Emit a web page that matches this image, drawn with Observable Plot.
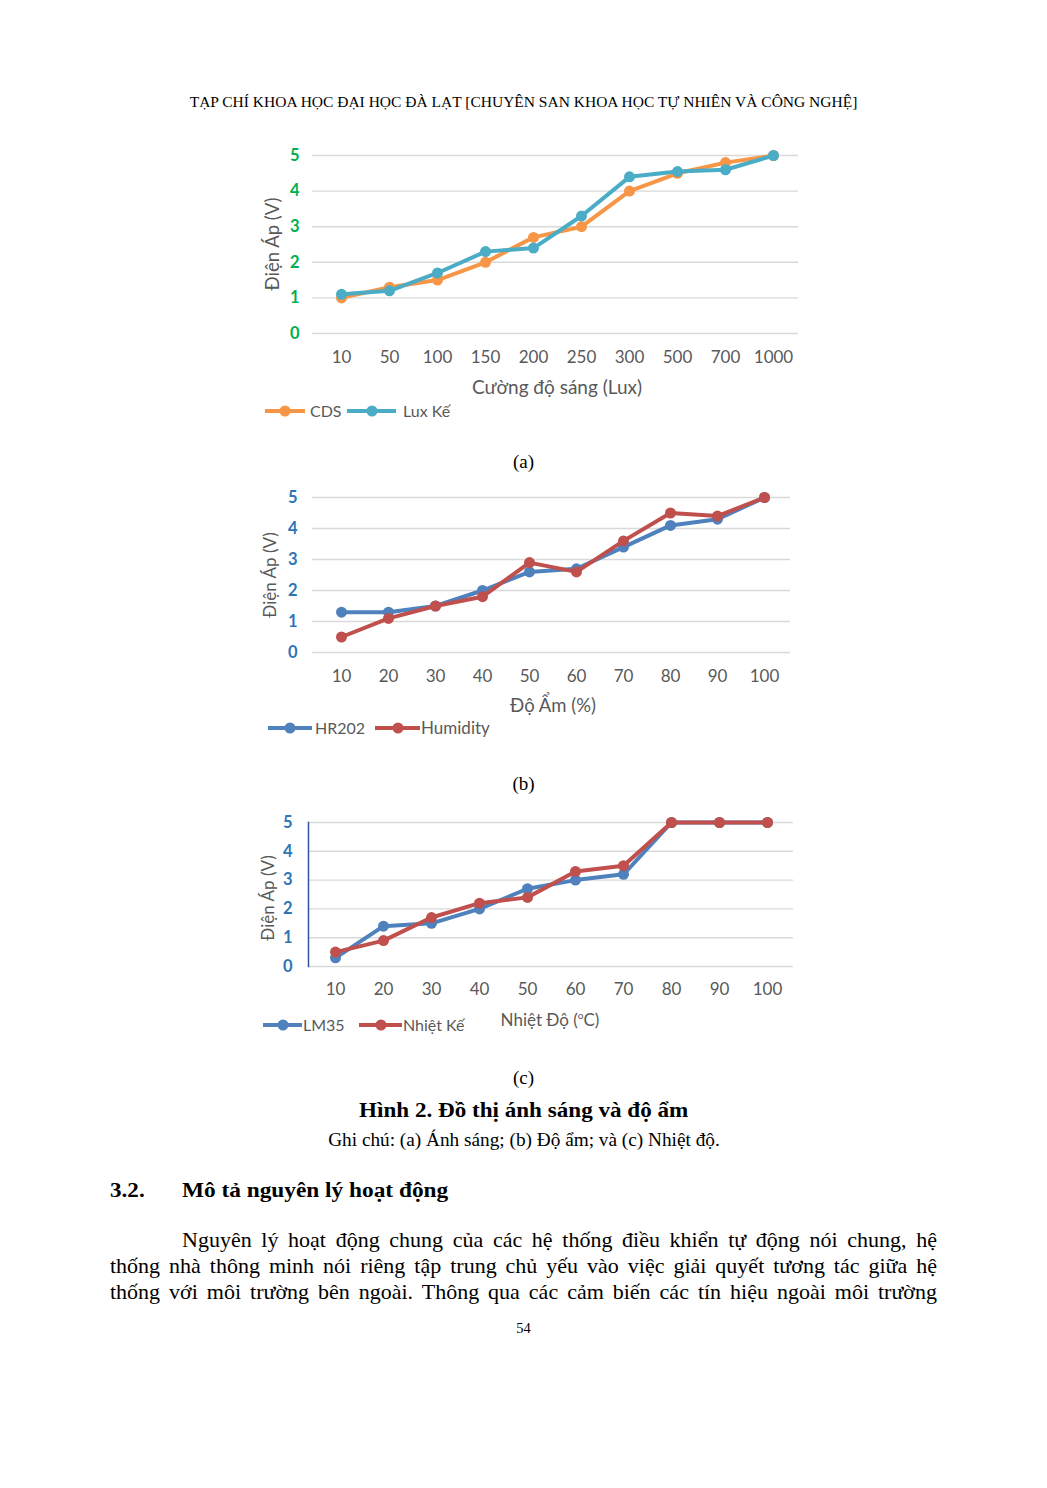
<!DOCTYPE html>
<html><head><meta charset="utf-8">
<script src="https://cdn.jsdelivr.net/npm/d3@7"></script>
<script src="https://cdn.jsdelivr.net/npm/@observablehq/plot@0.6"></script>
<style>
body{margin:0;background:#fff;}
#page{position:relative;width:1047px;height:1488px;background:#fff;overflow:hidden;font-family:"Liberation Serif","Times New Roman",serif;color:#000;}
.abs{position:absolute;white-space:nowrap;}
.ctr{position:absolute;left:0;width:1047px;text-align:center;white-space:nowrap;}
.ctr > span{display:inline-block;transform-origin:50% 50%;}
.chart{position:absolute;}
.ctitle{position:absolute;font-family:Lato,"Open Sans",sans-serif;font-size:17px;color:#595959;white-space:nowrap;line-height:20px;}
.ytitle{position:absolute;font-family:Lato,"Open Sans",sans-serif;font-size:17px;color:#595959;white-space:nowrap;line-height:20px;transform:translate(-50%,-50%) rotate(-90deg);}
.leg{position:absolute;font-family:Lato,"Open Sans",sans-serif;font-size:16px;color:#595959;white-space:nowrap;line-height:20px;display:flex;align-items:center;}
.sw{display:inline-block;position:relative;height:4px;background:var(--c);}
.sw::after{content:"";position:absolute;left:50%;top:50%;width:11px;height:11px;border-radius:50%;background:var(--c);transform:translate(-50%,-50%);}
.para{position:absolute;left:110px;width:827px;font-size:22px;line-height:26px;text-align:justify;text-align-last:justify;white-space:nowrap;}
</style>
</head><body>
<div id="page">
  <div class="ctr" style="top:92px;font-size:15.5px;line-height:20px;"><span>TẠP CHÍ KHOA HỌC ĐẠI HỌC ĐÀ LẠT [CHUYÊN SAN KHOA HỌC TỰ NHIÊN VÀ CÔNG NGHỆ]</span></div>

  <div id="chartA" class="chart" style="left:250px;top:140px;"></div>
  <div class="ctitle" style="left:557px;top:377px;transform:translateX(-50%);font-size:19px;">Cường độ sáng (Lux)</div>
  <div class="ytitle" style="left:272px;top:244px;font-size:18.5px;">Điện Áp (V)</div>
  <div class="leg" style="left:265px;top:401px;"><span class="sw" style="--c:#F79646;width:40px;"></span><span style="margin-left:5px">CDS</span></div>
  <div class="leg" style="left:347px;top:401px;"><span class="sw" style="--c:#4BACC6;width:49px;"></span><span style="margin-left:7px">Lux Kế</span></div>
  <div class="ctr" style="top:450px;font-size:19px;line-height:24px;"><span>(a)</span></div>

  <div id="chartB" class="chart" style="left:250px;top:480px;"></div>
  <div class="ctitle" style="left:553px;top:695px;transform:translateX(-50%);font-size:18.5px;">Độ Ẩm (%)</div>
  <div class="ytitle" style="left:270px;top:575px;">Điện Áp (V)</div>
  <div class="leg" style="left:268px;top:718px;"><span class="sw" style="--c:#4F81BD;width:44px;"></span><span style="margin-left:3px">HR202</span></div>
  <div class="leg" style="left:375px;top:718px;font-size:17px;"><span class="sw" style="--c:#C0504D;width:45px;"></span><span style="margin-left:1px">Humidity</span></div>
  <div class="ctr" style="top:772px;font-size:19px;line-height:24px;"><span>(b)</span></div>

  <div id="chartC" class="chart" style="left:250px;top:805px;"></div>
  <div class="ctitle" style="left:550px;top:1005px;transform:translateX(-50%);">Nhiệt Độ (<sup style="font-size:10px;">o</sup>C)</div>
  <div class="ytitle" style="left:268px;top:898px;">Điện Áp (V)</div>
  <div class="leg" style="left:263px;top:1015px;"><span class="sw" style="--c:#4F81BD;width:39px;"></span><span style="margin-left:1px">LM35</span></div>
  <div class="leg" style="left:359px;top:1015px;"><span class="sw" style="--c:#C0504D;width:43px;"></span><span style="margin-left:1px">Nhiệt Kế</span></div>
  <div class="ctr" style="top:1066px;font-size:19px;line-height:24px;"><span>(c)</span></div>

  <div class="ctr" style="top:1097px;font-size:21px;line-height:26px;font-weight:bold;"><span style="transform:scaleX(1.1);">Hình 2. Đồ thị ánh sáng và độ ẩm</span></div>
  <div class="ctr" style="top:1129px;font-size:18px;line-height:22px;"><span style="transform:scaleX(1.07);">Ghi chú: (a) Ánh sáng; (b) Độ ẩm; và (c) Nhiệt độ.</span></div>

  <div class="abs" style="left:110px;top:1177px;font-size:21px;line-height:26px;font-weight:bold;transform:scaleX(1.1);transform-origin:0 50%;">3.2.</div>
  <div class="abs" style="left:182px;top:1177px;font-size:21px;line-height:26px;font-weight:bold;transform:scaleX(1.11);transform-origin:0 50%;">Mô tả nguyên lý hoạt động</div>

  <div class="para" style="top:1227px;left:182px;width:755px;">Nguyên lý hoạt động chung của các hệ thống điều khiển tự động nói chung, hệ</div>
  <div class="para" style="top:1253px;">thống nhà thông minh nói riêng tập trung chủ yếu vào việc giải quyết tương tác giữa hệ</div>
  <div class="para" style="top:1279px;">thống với môi trường bên ngoài. Thông qua các cảm biến các tín hiệu ngoài môi trường</div>

  <div class="ctr" style="top:1318px;font-size:14.5px;line-height:20px;"><span>54</span></div>
</div>
<script>
// ---- Data ----
const luxCategories = ["10","50","100","150","200","250","300","500","700","1000"];
const cdsValues      = [1.0, 1.3, 1.5, 2.0, 2.7, 3.0, 4.0, 4.5, 4.8, 5.0];
const luxMeterValues = [1.1, 1.2, 1.7, 2.3, 2.4, 3.3, 4.4, 4.55, 4.6, 5.0];

const humidityCategories = ["10","20","30","40","50","60","70","80","90","100"];
const hr202Values    = [1.3, 1.3, 1.5, 2.0, 2.6, 2.7, 3.4, 4.1, 4.3, 5.0];
const humidityValues = [0.5, 1.1, 1.5, 1.8, 2.9, 2.6, 3.6, 4.5, 4.4, 5.0];

const tempCategories = ["10","20","30","40","50","60","70","80","90","100"];
const lm35Values        = [0.3, 1.4, 1.5, 2.0, 2.7, 3.0, 3.2, 5.0, 5.0, 5.0];
const thermometerValues = [0.5, 0.9, 1.7, 2.2, 2.4, 3.3, 3.5, 5.0, 5.0, 5.0];

const voltageTicks = [0, 1, 2, 3, 4, 5];

function drawChart(el, cfg) {
  const rows = s => cfg.cats.map((c, i) => ({cat: c, v: s.values[i]}));
  const marks = [
    Plot.gridY(voltageTicks, {stroke: "#d9d9d9", strokeOpacity: 1, strokeWidth: 1.4}),
    Plot.axisY(voltageTicks, {tickSize: 0, tickPadding: cfg.yPad, fill: cfg.tickColor, fontWeight: "bold", fontSize: 16.5, label: null}),
    Plot.axisX({tickSize: 0, tickPadding: cfg.xPad, fill: "#595959", fontSize: 17, label: null})
  ];
  if (cfg.leftLine) marks.push(Plot.frame({anchor: "left", stroke: cfg.leftLine, strokeWidth: 1.5}));
  for (const s of cfg.series) {
    marks.push(Plot.line(rows(s), {x: "cat", y: "v", stroke: s.color, strokeWidth: 4, strokeLinejoin: "round"}));
    marks.push(Plot.dot(rows(s), {x: "cat", y: "v", fill: s.color, r: 5.5}));
  }
  const svg = Plot.plot({
    width: cfg.width, height: cfg.height,
    marginTop: cfg.mt, marginBottom: cfg.mb, marginLeft: cfg.ml, marginRight: cfg.mr,
    style: {background: "transparent", fontFamily: "Lato, 'Open Sans', sans-serif", fontSize: "16px", overflow: "visible"},
    x: {type: "point", domain: cfg.cats, range: cfg.xRange, padding: 0, label: null},
    y: {domain: [0, 5], label: null},
    marks
  });
  document.getElementById(el).appendChild(svg);
}

drawChart("chartA", {
  cats: luxCategories, width: 560, height: 240, mt: 15, mb: 47, ml: 62, mr: 12,
  xRange: [91, 523], yPad: 13, xPad: 17, tickColor: "#00B050",
  series: [{values: cdsValues, color: "#F79646"}, {values: luxMeterValues, color: "#4BACC6"}]
});
drawChart("chartB", {
  cats: humidityCategories, width: 560, height: 220, mt: 17, mb: 48, ml: 62, mr: 20,
  xRange: [88, 517], yPad: 15, xPad: 17, tickColor: "#2E75B6",
  series: [{values: hr202Values, color: "#4F81BD"}, {values: humidityValues, color: "#C0504D"}]
});
drawChart("chartC", {
  cats: tempCategories, width: 560, height: 210, mt: 17, mb: 49, ml: 58, mr: 17,
  xRange: [83, 519], yPad: 16, xPad: 16, tickColor: "#2E75B6", leftLine: "#2F5597",
  series: [{values: lm35Values, color: "#4F81BD"}, {values: thermometerValues, color: "#C0504D"}]
});
</script>
</body></html>
